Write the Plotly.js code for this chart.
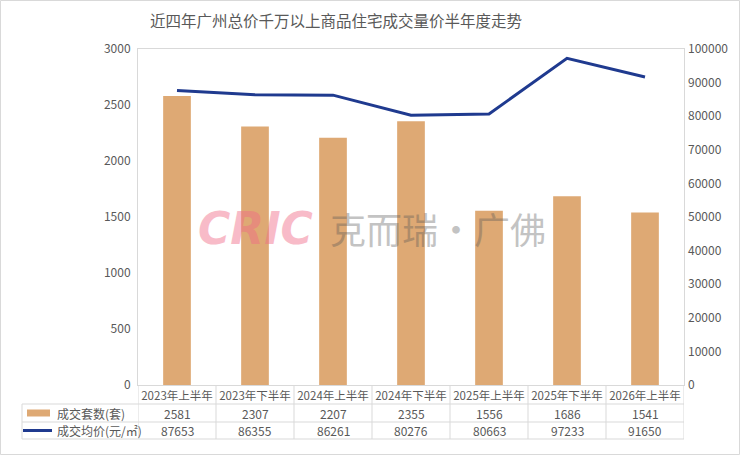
<!DOCTYPE html>
<html>
<head>
<meta charset="utf-8">
<script src="https://cdn.plot.ly/plotly-3.0.1.min.js"></script>
<style>
  html, body { margin: 0; padding: 0; background: #fff; }
  #chart { width: 740px; height: 455px; }
</style>
</head>
<body>
<div id="chart"></div>
<script>
var periods = ["2023年上半年", "2023年下半年", "2024年上半年", "2024年下半年", "2025年上半年", "2025年下半年", "2026年上半年"];
var units = [2581, 2307, 2207, 2355, 1556, 1686, 1541];
var prices = [87653, 86355, 86261, 80276, 80663, 97233, 91650];
var seriesNames = ["成交套数(套)", "成交均价(元/㎡)"];

var FONT = "Noto Sans CJK SC, Microsoft YaHei, sans-serif";
var TEXT = "#595959";
var GRID = "#d9d9d9";
var BAR = "#dea974";
var LINE = "#1f3a8f";

// plot area in pixels: left 138, right 684, top 49, bottom 385
var PW = 546, PH = 336;
function px(xpix) { return (xpix - 138) / PW; }
function py(ypix) { return (385 - ypix) / PH; }

var bars = {
  x: periods,
  y: units,
  name: seriesNames[0],
  type: "bar",
  width: 0.355,
  marker: { color: BAR },
  hoverinfo: "x+y"
};

var line = {
  x: periods,
  y: prices,
  name: seriesNames[1],
  type: "scatter",
  mode: "lines",
  yaxis: "y2",
  line: { color: LINE, width: 3 },
  hoverinfo: "x+y"
};

// data table below the plot
var rowLines = [404, 422, 439];
var shapes = [];
rowLines.forEach(function (yp) {
  shapes.push({ type: "line", xref: "paper", yref: "paper",
    x0: px(22), x1: 1, y0: py(yp), y1: py(yp),
    line: { color: GRID, width: 1 } });
});
for (var k = 0; k <= periods.length; k++) {
  shapes.push({ type: "line", xref: "x", yref: "paper",
    x0: k - 0.5, x1: k - 0.5, y0: 0, y1: py(439),
    line: { color: GRID, width: 1 } });
}
shapes.push({ type: "line", xref: "paper", yref: "paper",
  x0: px(22), x1: px(22), y0: py(404), y1: py(439),
  line: { color: GRID, width: 1 } });
// legend keys
shapes.push({ type: "rect", xref: "paper", yref: "paper",
  x0: px(27), x1: px(50), y0: py(416.5), y1: py(409.5),
  fillcolor: BAR, line: { width: 0 } });
shapes.push({ type: "line", xref: "paper", yref: "paper",
  x0: px(23), x1: px(52), y0: py(430.5), y1: py(430.5),
  line: { color: LINE, width: 3 } });
// outer frame
shapes.push({ type: "rect", xref: "paper", yref: "paper",
  x0: px(0.5), x1: px(739.5), y0: py(454.5), y1: py(0.5),
  line: { color: GRID, width: 1 } });

var annotations = [];
var rowCenters = [413, 430.5];
[units, prices].forEach(function (vals, r) {
  vals.forEach(function (v, i) {
    annotations.push({ xref: "x", yref: "paper", x: periods[i], y: py(rowCenters[r]),
      xanchor: "center", yanchor: "middle",
      text: String(v), showarrow: false, font: { family: FONT, size: 12, color: TEXT } });
  });
  annotations.push({ xref: "paper", yref: "paper", x: px(55), y: py(rowCenters[r]),
    xanchor: "left", yanchor: "middle", text: seriesNames[r], showarrow: false,
    font: { family: FONT, size: 12, color: TEXT } });
});
// watermark
annotations.push({ xref: "paper", yref: "paper", x: px(255), y: py(228),
  xanchor: "center", yanchor: "middle",
  text: "<b><i>CRIC</i></b>", showarrow: false, opacity: 0.45,
  font: { family: "DejaVu Sans, sans-serif", size: 44, color: "#f06a86" } });
annotations.push({ xref: "paper", yref: "paper", x: px(438), y: py(228),
  xanchor: "center", yanchor: "middle",
  text: "克而瑞·广佛", showarrow: false, opacity: 0.35,
  font: { family: FONT, size: 36, color: "#555555" } });

var layout = {
  width: 740,
  height: 455,
  margin: { l: 138, r: 56, t: 49, b: 70 },
  paper_bgcolor: "#ffffff",
  plot_bgcolor: "#ffffff",
  showlegend: false,
  title: {
    text: "近四年广州总价千万以上商品住宅成交量价半年度走势",
    font: { family: FONT, size: 15.5, color: TEXT },
    x: 336 / 740, xanchor: "center",
    y: 1 - 22 / 455, yanchor: "middle"
  },
  xaxis: {
    type: "category",
    range: [-0.5, 6.5],
    showline: true, mirror: true, linecolor: GRID, linewidth: 1,
    showgrid: false, zeroline: false,
    ticks: "", ticklen: 0,
    tickfont: { family: FONT, size: 11.5, color: TEXT },
    fixedrange: true
  },
  yaxis: {
    range: [0, 3000],
    dtick: 500,
    showline: true, mirror: true, linecolor: GRID, linewidth: 1,
    showgrid: false, zeroline: false,
    ticks: "", ticklabelstandoff: 4,
    tickfont: { family: FONT, size: 12, color: TEXT },
    fixedrange: true
  },
  yaxis2: {
    range: [0, 100000],
    dtick: 10000,
    tickformat: "d",
    overlaying: "y",
    side: "right",
    showline: false, showgrid: false, zeroline: false,
    ticks: "", ticklabelstandoff: 3,
    tickfont: { family: FONT, size: 12, color: TEXT },
    fixedrange: true
  },
  shapes: shapes,
  annotations: annotations
};

Plotly.newPlot("chart", [bars, line], layout, { displayModeBar: false, staticPlot: true });
</script>
</body>
</html>
